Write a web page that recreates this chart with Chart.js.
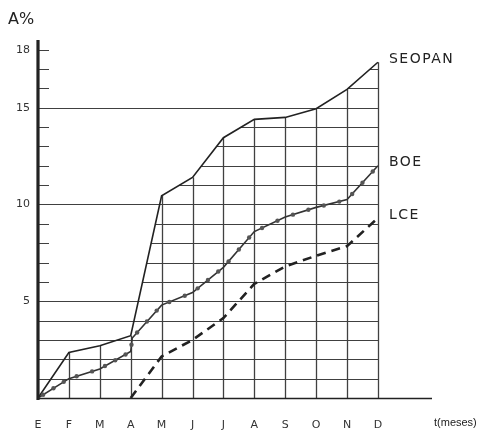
<!DOCTYPE html>
<html>
<head>
<meta charset="utf-8">
<script src="https://cdn.jsdelivr.net/npm/chart.js@4.4.1/dist/chart.umd.min.js"></script>
<style>
  html, body { margin: 0; padding: 0; background: #fff; }
  #wrap { width: 480px; height: 434px; }
</style>
</head>
<body>
<div id="wrap"><canvas id="myChart" width="480" height="434"></canvas></div>
<script>
// months (Spanish initials) on the t axis
const months = ['E', 'F', 'M', 'A', 'M', 'J', 'J', 'A', 'S', 'O', 'N', 'D'];
const yLabels = [5, 10, 15, 18];
const fullLines = [1, 2, 3, 4, 5, 10, 15];

// SEOPAN, one value per month
const seopan = [0, 2.35, 2.7, 3.22, 10.45, 11.4, 13.45, 14.4, 14.5, 14.95, 15.95, 17.35];
// BOE (has a small jump just after A)
const boeT = [0, 1, 2, 3, 3.05, 4, 5, 6, 7, 8, 9, 10, 11];
const boeV = [0, 1.0, 1.5, 2.4, 3.1, 4.8, 5.45, 6.75, 8.6, 9.35, 9.85, 10.25, 12.0];
// LCE starts in April
const lceT = [3, 4, 5, 6, 7, 8, 9, 10, 11];
const lceV = [0, 2.15, 3.0, 4.13, 5.9, 6.8, 7.35, 7.85, 9.3];

const ink = '#222';

const pts = (ts, vs) => ts.map((t, i) => ({ x: t, y: vs[i] }));

// grid drawn by hand: some lines full width, the rest only under SEOPAN
const handGrid = {
  id: 'handGrid',
  beforeDatasetsDraw(chart) {
    const { ctx, scales: { x, y }, chartArea } = chart;
    const x0 = x.getPixelForValue(0), x1 = x.getPixelForValue(11), y0 = y.getPixelForValue(0);
    const top = chart.getDatasetMeta(0).data;
    ctx.save();
    ctx.strokeStyle = '#404040';
    ctx.lineWidth = 1;
    fullLines.forEach(v => {
      const py = Math.round(y.getPixelForValue(v)) + 0.5;
      ctx.beginPath(); ctx.moveTo(x0, py); ctx.lineTo(x1, py); ctx.stroke();
    });
    // clip to area under SEOPAN
    ctx.save();
    ctx.beginPath();
    ctx.moveTo(top[0].x, y0);
    top.forEach(p => ctx.lineTo(p.x, p.y));
    ctx.lineTo(x1 + 1, top[top.length - 1].y);
    ctx.lineTo(x1 + 1, y0);
    ctx.closePath();
    ctx.clip();
    for (let v = 1; v <= 18; v++) {
      const py = Math.round(y.getPixelForValue(v)) + 0.5;
      ctx.beginPath(); ctx.moveTo(x0, py); ctx.lineTo(x1 + 1, py); ctx.stroke();
    }
    ctx.restore();
    // month verticals up to SEOPAN
    ctx.lineWidth = 1.3;
    for (let i = 1; i < months.length; i++) {
      const px = Math.round(x.getPixelForValue(i)) + 0.5;
      ctx.beginPath(); ctx.moveTo(px, y0); ctx.lineTo(px, y.getPixelForValue(seopan[i])); ctx.stroke();
    }
    // little ticks on the A% axis
    ctx.lineWidth = 1;
    for (let v = 1; v <= 18; v++) {
      const py = Math.round(y.getPixelForValue(v)) + 0.5;
      ctx.beginPath(); ctx.moveTo(x0, py); ctx.lineTo(x0 + 11, py); ctx.stroke();
    }
    // axes
    ctx.strokeStyle = ink;
    ctx.lineWidth = 1.6;
    ctx.beginPath(); ctx.moveTo(x0, y0 + 0.5); ctx.lineTo(chartArea.right, y0 + 0.5); ctx.stroke();
    ctx.lineWidth = 3.2;
    ctx.beginPath(); ctx.moveTo(x0, y0 + 2); ctx.lineTo(x0, chartArea.top); ctx.stroke();
    ctx.restore();
  },
  afterDatasetsDraw(chart) {
    const { ctx } = chart;
    ctx.save();
    // dots along BOE
    const boe = chart.getDatasetMeta(1).data;
    ctx.fillStyle = '#555';
    for (let i = 1; i < boe.length; i++) {
      const a = boe[i - 1], b = boe[i];
      const len = Math.hypot(b.x - a.x, b.y - a.y);
      const n = Math.max(1, Math.round(len / 14));
      for (let k = 0; k < n; k++) {
        const f = (k + 0.5) / n;
        ctx.beginPath();
        ctx.arc(a.x + (b.x - a.x) * f, a.y + (b.y - a.y) * f, 2.2, 0, Math.PI * 2);
        ctx.fill();
      }
    }
    // series names at line ends
    ctx.fillStyle = ink;
    ctx.font = '14px "DejaVu Sans"';
    ctx.letterSpacing = '1.5px';
    ctx.textBaseline = 'middle';
    ctx.textAlign = 'left';
    const names = ['SEOPAN', 'BOE', 'LCE'];
    names.forEach((nm, i) => {
      const d = chart.getDatasetMeta(i).data;
      const p = d[d.length - 1];
      ctx.fillText(nm, p.x + 11, p.y - 3);
    });
    ctx.letterSpacing = '0px';
    ctx.font = '16px "DejaVu Sans"';
    ctx.fillText('A%', 8, 20);
    ctx.font = '11px "Liberation Sans"';
    ctx.fillText('t(meses)', 434, 423);
    ctx.restore();
  }
};

const ctx = document.getElementById('myChart');

const myChart = new Chart(ctx, {
  type: 'line',
  data: {
    datasets: [
      { label: 'SEOPAN', data: pts(months.map((m, i) => i), seopan), borderColor: ink, borderWidth: 1.6, pointRadius: 0, tension: 0 },
      { label: 'BOE', data: pts(boeT, boeV), borderColor: '#333', borderWidth: 1.6, pointRadius: 0, tension: 0 },
      { label: 'LCE', data: pts(lceT, lceV), borderColor: ink, borderWidth: 2.6, borderDash: [9, 6], pointRadius: 0, tension: 0 }
    ]
  },
  options: {
    responsive: false,
    animation: false,
    layout: { padding: { top: 40, right: 48, left: 0, bottom: 0 } },
    plugins: { legend: { display: false }, tooltip: { enabled: false } },
    scales: {
      x: {
        type: 'linear',
        min: 0,
        max: 12.75,
        afterBuildTicks: s => { s.ticks = months.map((m, i) => ({ value: i })); },
        afterFit: s => { s.height = 36; },
        grid: { display: false, drawTicks: false },
        border: { display: false },
        ticks: {
          autoSkip: false,
          maxRotation: 0,
          padding: 21,
          color: '#333',
          font: { size: 11, family: '"DejaVu Sans"' },
          callback: v => months[v]
        }
      },
      y: {
        min: 0,
        max: 18.5,
        afterBuildTicks: s => { s.ticks = yLabels.map(v => ({ value: v })); },
        afterFit: s => { s.width = 38; },
        grid: { display: false, drawTicks: false },
        border: { display: false },
        ticks: {
          padding: 8,
          color: '#333',
          font: { size: 11, family: '"DejaVu Sans"' }
        }
      }
    }
  },
  plugins: [handGrid]
});
</script>
</body>
</html>
